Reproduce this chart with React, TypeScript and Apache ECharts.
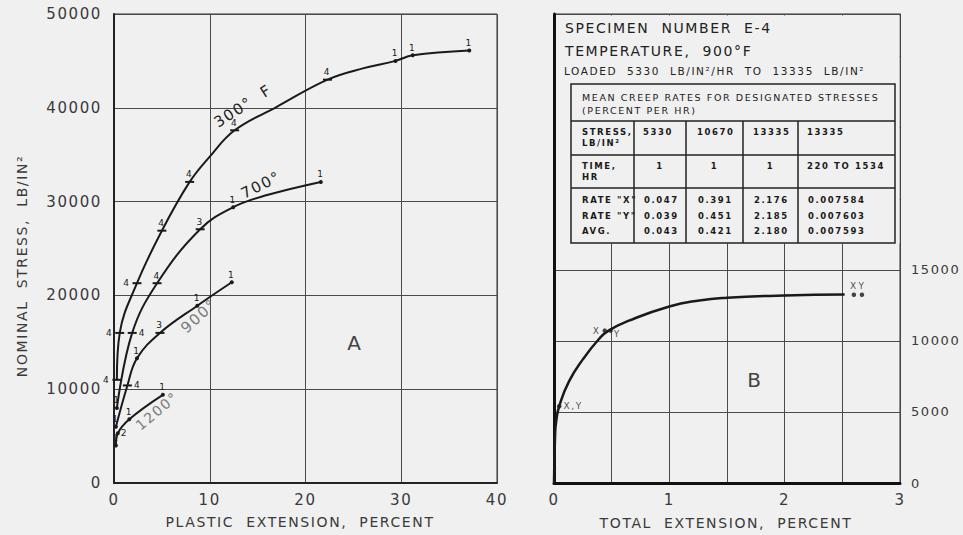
import React, { useEffect, useRef } from "react";
import * as echarts from "echarts";

const FONT = "'DejaVu Sans', sans-serif";
const BG = "#f0f0f0";
const INK = "#1a1a1a";
const TEXT = "#3a3a3a";

// Panel A: nominal stress vs plastic extension, one curve per test temperature
const extTicksA = [0, 10, 20, 30, 40];
const stressTicksA = [0, 10000, 20000, 30000, 40000, 50000];

const t300Ext = [0.3, 0.6, 2.4, 5.0, 7.9, 10.0, 12.6, 17.0, 22.3, 26.0, 29.4, 31.2, 37.1];
const t300Stress = [11000, 16000, 21300, 26900, 32100, 34800, 37600, 40100, 43000, 44200, 45000, 45600, 46100];
const t300Marks = ["4", "4", "4", "4", "4", "", "4", "", "4", "", "1", "1", "1"];

const t700Ext = [0.3, 1.9, 4.5, 9.0, 12.45, 16.0, 21.6];
const t700Stress = [8000, 16000, 21300, 27050, 29400, 30700, 32100];
const t700Marks = ["1", "4", "4", "3", "1", "", "1"];

const t900Ext = [0.2, 1.4, 2.4, 4.8, 8.7, 12.3];
const t900Stress = [6000, 10400, 13300, 16000, 18900, 21400];
const t900Marks = ["1", "4", "1", "3", "1", "1"];

const t1200Ext = [0.2, 0.4, 1.6, 5.1];
const t1200Stress = [4000, 5300, 6800, 9400];
const t1200Marks = ["1", "2", "1", "1"];

// Panel B: specimen E-4 at 900 °F, total extension under step loading
const extTicksB = [0, 1, 2, 3];
const stressTicksB = [0, 5000, 10000, 15000];
const totalExt = [0, 0.01, 0.02, 0.045, 0.13, 0.25, 0.39, 0.47, 0.65, 1.0, 1.26, 1.5, 2.0, 2.52];
const totalStress = [0, 3500, 4400, 5400, 7150, 8700, 10130, 10700, 11420, 12420, 12840, 13030, 13200, 13260];

const readingExt = [0.045, 0.44, 0.49, 2.6, 2.67];
const readingStress = [5400, 10720, 10720, 13250, 13250];
const readingTags = ["X,Y", "X", "Y", "X", "Y"];

// Mean creep-rate table
const tableStress = ["5330", "10670", "13335", "13335"];
const tableTime = ["1", "1", "1", "220 TO 1534"];
const rateX = ["0.047", "0.391", "2.176", "0.007584"];
const rateY = ["0.039", "0.451", "2.185", "0.007603"];
const rateAvg = ["0.043", "0.421", "2.180", "0.007593"];

type Side = "left" | "right";

function markedCurve(xs: number[], ys: number[], marks: string[], lowSide: Side) {
  return xs.map((x, i) => {
    const code = marks[i];
    if (!code) return { value: [x, ys[i]], symbol: "none" };
    const dash = code === "4" || code === "3";
    let position: string = "top";
    if (dash && x < 3) position = lowSide;
    if (code === "2") position = "right";
    return {
      value: [x, ys[i]],
      symbol: dash ? "rect" : "circle",
      symbolSize: dash ? [9, 2] : 4,
      label: {
        show: true,
        formatter: code,
        position,
        distance: dash ? 2 : 1,
        fontSize: 9,
        fontFamily: FONT,
        color: INK,
      },
    };
  });
}

function curveSeries(name: string, data: any[]) {
  return {
    name,
    type: "line",
    xAxisIndex: 0,
    yAxisIndex: 0,
    data,
    smooth: 0.4,
    lineStyle: { color: INK, width: 2 },
    itemStyle: { color: INK },
    z: 3,
  };
}

function txt(text: string, x: number, y: number, size: number, opts: any = {}) {
  return {
    type: "text",
    x,
    y,
    rotation: opts.rot ? (opts.rot * Math.PI) / 180 : 0,
    z: 120,
    style: {
      text,
      fill: opts.fill || TEXT,
      fontSize: size,
      fontFamily: FONT,
      fontWeight: opts.bold ? "bold" : "normal",
      align: opts.align || "left",
      verticalAlign: "middle",
    },
  };
}

function ln(x1: number, y1: number, x2: number, y2: number, w = 1.5) {
  return {
    type: "line",
    z: 115,
    shape: { x1, y1, x2, y2 },
    style: { stroke: "#222", lineWidth: w },
  };
}

function buildTable() {
  const L = 571, R = 895, T = 84, B = 243;
  const rows = [121, 155, 188];
  const cols = [634, 686, 743, 798];
  const valueX = [643, 697, 753, 807];
  const els: any[] = [];
  els.push({
    type: "rect",
    z: 114,
    shape: { x: L, y: T, width: R - L, height: B - T },
    style: { fill: BG, stroke: "#222", lineWidth: 1.5 },
  });
  rows.forEach((y) => els.push(ln(L, y, R, y)));
  cols.forEach((x) => els.push(ln(x, rows[0], x, B)));
  const fs = 8.5;
  const o = { fill: INK, bold: true };
  els.push(txt("MEAN CREEP RATES FOR DESIGNATED STRESSES", 582, 97, 9.5, { fill: INK }));
  els.push(txt("(PERCENT PER HR)", 582, 110, 9.5, { fill: INK }));
  els.push(txt("STRESS,", 582, 132, fs, o));
  els.push(txt("LB/IN²", 582, 143, fs, o));
  tableStress.forEach((s, i) => els.push(txt(s, valueX[i], 132, fs, o)));
  els.push(txt("TIME,", 582, 166, fs, o));
  els.push(txt("HR", 582, 177, fs, o));
  tableTime.forEach((s, i) => {
    if (i < 3) els.push(txt(s, (cols[i] + cols[i + 1]) / 2, 166, fs, { ...o, align: "center" }));
    else els.push(txt(s, valueX[i], 166, fs, o));
  });
  const rateRows: [string, string[], number][] = [
    ['RATE "X"', rateX, 200],
    ['RATE "Y"', rateY, 216],
    ["AVG.", rateAvg, 231],
  ];
  rateRows.forEach(([label, vals, y]) => {
    els.push(txt(label, 582, y, fs, o));
    vals.forEach((v, i) => els.push(txt(v, valueX[i] + 1, y, fs, o)));
  });
  return els;
}

function readingLabel(i: number): any {
  const tag = readingTags[i];
  let position: any = "top";
  let offset = [0, 0];
  if (readingExt[i] < 2) {
    if (tag.includes(",")) position = "right";
    else if (tag === "X") position = "left";
    else {
      position = "right";
      offset = [-1, 3];
    }
  }
  return {
    show: true,
    formatter: tag,
    position,
    offset,
    distance: 2,
    fontSize: 9,
    fontFamily: FONT,
    color: INK,
  };
}

function buildOption(): any {
  const axisLabel = { fontSize: 15, color: TEXT, fontFamily: FONT };
  const plain = (v: number) => String(v);
  const split = { show: true, lineStyle: { color: "#4a4a4a", width: 1 } };
  return {
    animation: false,
    backgroundColor: BG,
    grid: [
      { left: 114, top: 14, width: 383, height: 469, show: true, borderColor: "#333", borderWidth: 1, backgroundColor: "transparent" },
      { left: 554, top: 14, width: 346, height: 469, show: true, borderColor: "#333", borderWidth: 1, backgroundColor: "transparent" },
    ],
    xAxis: [
      {
        type: "value",
        gridIndex: 0,
        min: extTicksA[0],
        max: extTicksA[extTicksA.length - 1],
        interval: extTicksA[1] - extTicksA[0],
        axisLine: { show: true, onZero: false, lineStyle: { color: "#222", width: 2 } },
        axisTick: { show: false },
        axisLabel: { ...axisLabel, margin: 9, formatter: plain },
        splitLine: split,
      },
      {
        type: "value",
        gridIndex: 1,
        min: extTicksB[0],
        max: extTicksB[extTicksB.length - 1],
        interval: 0.5,
        axisLine: { show: true, onZero: false, lineStyle: { color: "#111", width: 3 } },
        axisTick: { show: false },
        axisLabel: {
          ...axisLabel,
          margin: 9,
          formatter: (v: number) => (extTicksB.includes(v) ? String(v) : ""),
        },
        splitLine: split,
      },
    ],
    yAxis: [
      {
        type: "value",
        gridIndex: 0,
        min: stressTicksA[0],
        max: stressTicksA[stressTicksA.length - 1],
        interval: stressTicksA[1] - stressTicksA[0],
        axisLine: { show: true, onZero: false, lineStyle: { color: "#222", width: 2 } },
        axisTick: { show: false },
        axisLabel: { ...axisLabel, margin: 12, formatter: plain },
        splitLine: split,
      },
      {
        type: "value",
        gridIndex: 1,
        position: "right",
        min: 0,
        max: 33000,
        interval: stressTicksB[1] - stressTicksB[0],
        axisLine: { show: true, onZero: false, lineStyle: { color: "#444", width: 1 } },
        axisTick: { show: false },
        axisLabel: {
          ...axisLabel,
          fontSize: 13,
          margin: 11,
          formatter: (v: number) => (stressTicksB.includes(v) ? String(v) : ""),
        },
        splitLine: split,
      },
      {
        type: "value",
        gridIndex: 1,
        position: "left",
        min: 0,
        max: 33000,
        axisLine: { show: true, onZero: false, lineStyle: { color: "#111", width: 3 } },
        axisTick: { show: false },
        axisLabel: { show: false },
        splitLine: { show: false },
      },
    ],
    series: [
      curveSeries("300° F", markedCurve(t300Ext, t300Stress, t300Marks, "left")),
      curveSeries("700°", markedCurve(t700Ext, t700Stress, t700Marks, "right")),
      curveSeries("900°", markedCurve(t900Ext, t900Stress, t900Marks, "right")),
      curveSeries("1200°", markedCurve(t1200Ext, t1200Stress, t1200Marks, "right")),
      {
        name: "E-4",
        type: "line",
        xAxisIndex: 1,
        yAxisIndex: 1,
        data: totalExt.map((x, i) => [x, totalStress[i]]),
        smooth: 0.5,
        symbol: "none",
        lineStyle: { color: INK, width: 2.5 },
        z: 3,
      },
      {
        name: "readings",
        type: "scatter",
        xAxisIndex: 1,
        yAxisIndex: 1,
        symbolSize: 4.5,
        itemStyle: { color: INK },
        data: readingExt.map((x, i) => ({ value: [x, readingStress[i]], label: readingLabel(i) })),
        z: 4,
      },
    ],
    graphic: [
      // header block of panel B sits over the upper grid
      {
        type: "rect",
        z: 110,
        shape: { x: 556, y: 15.5, width: 343.5, height: 228 },
        style: { fill: BG },
      },
      txt("SPECIMEN  NUMBER  E-4", 565, 28, 14, { fill: "#222" }),
      txt("TEMPERATURE,  900°F", 565, 51, 14, { fill: "#222" }),
      txt("LOADED  5330  LB/IN²/HR  TO  13335  LB/IN²", 564, 71, 10.5, { fill: "#222" }),
      ...buildTable(),
      // curve captions and panel letters
      txt("300°  F", 243, 106, 15, { rot: 33, align: "center", fill: "#222" }),
      txt("700°", 261, 185, 15, { rot: 27, align: "center", fill: "#222" }),
      txt("900°", 199, 316, 15, { rot: 42, align: "center", fill: "#7a7a7a" }),
      txt("1200°", 157, 411, 14, { rot: 40, align: "center", fill: "#7a7a7a" }),
      txt("A", 355, 343, 20, { align: "center", fill: "#444" }),
      txt("B", 755, 380, 20, { align: "center", fill: "#444" }),
      // axis titles
      txt("NOMINAL  STRESS,  LB/IN²", 22, 266, 14, { rot: 90, align: "center" }),
      txt("PLASTIC  EXTENSION,  PERCENT", 300, 522, 14, { align: "center" }),
      txt("TOTAL  EXTENSION,  PERCENT", 726, 523, 14, { align: "center" }),
    ],
  };
}

export default function App() {
  const ref = useRef<HTMLDivElement>(null);
  useEffect(() => {
    if (!ref.current) return;
    const chart = echarts.init(ref.current, null, { renderer: "svg" });
    chart.setOption(buildOption());
    return () => chart.dispose();
  }, []);
  return (
    <>
      <style>{`#creep-chart text { letter-spacing: 1.6px; }`}</style>
      <div
        id="creep-chart"
        ref={ref}
        style={{ position: "fixed", left: 0, top: 0, width: 963, height: 535, background: BG }}
      />
    </>
  );
}
